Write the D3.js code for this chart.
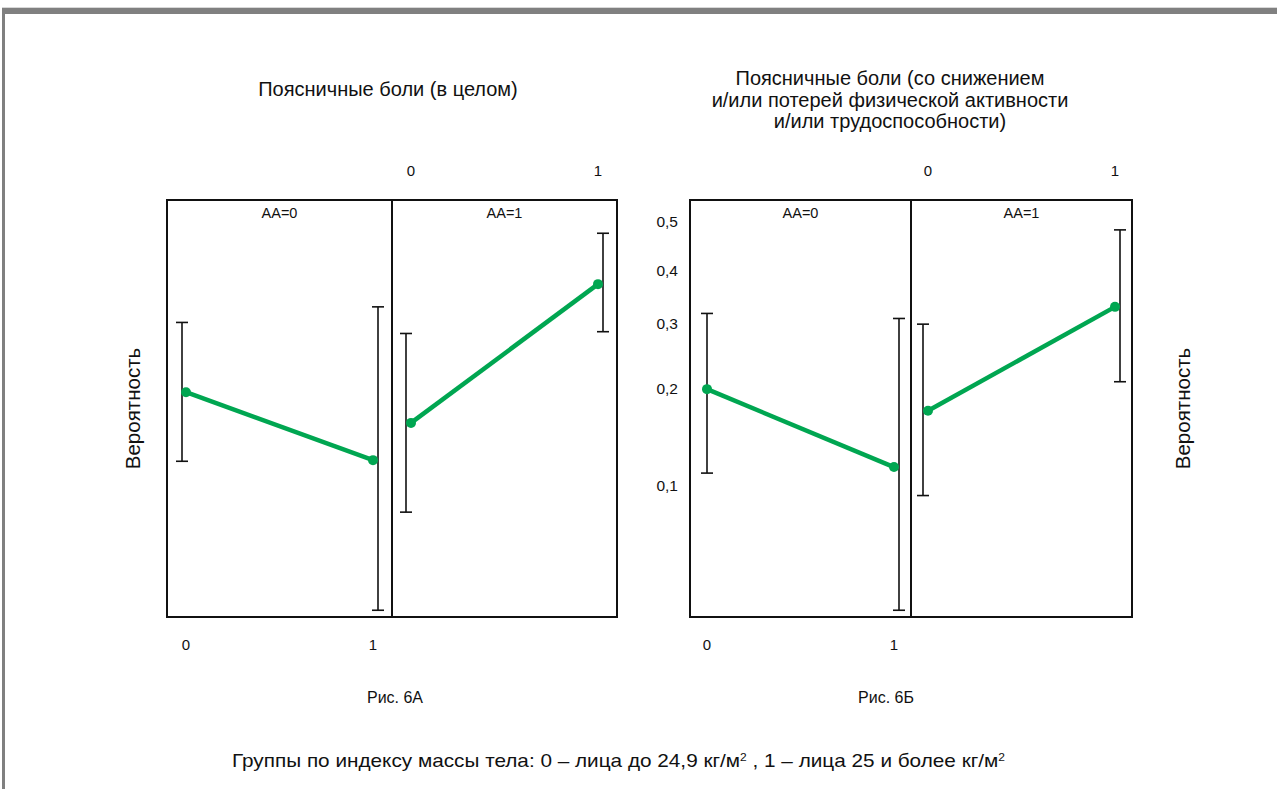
<!DOCTYPE html>
<html>
<head>
<meta charset="utf-8">
<script src="https://cdn.jsdelivr.net/npm/d3@7"></script>
<style>
  html, body { margin: 0; padding: 0; background: #fff; }
  #frame {
    position: absolute; left: 2px; top: 8px; width: 1275px; height: 781px;
    border-top: 6px solid #808080; border-left: 3px solid #808080;
    box-shadow: 0 -1px 0 #d8d8d8;
  }
  svg { position: absolute; left: 0; top: 0; font-family: "Liberation Sans", Arial, Helvetica, sans-serif; }
</style>
</head>
<body>
<div id="frame"></div>
<div id="chart"></div>
<script>
// BMI groups (x) and strata (panels)
const bmiGroups = [0, 1];
const strata = ["АА=0", "АА=1"];

// Рис. 6А: low back pain overall — estimate and 95% CI, per stratum [bmi0, bmi1]
const probA = [[0.195, 0.121], [0.158, 0.373]];
const lowA = [[0.120, 0.038], [0.082, 0.286]];
const highA = [[0.302, 0.330], [0.283, 0.476]];

// Рис. 6Б: low back pain with reduced activity / work capacity
const probB = [[0.199, 0.115], [0.172, 0.330]];
const lowB = [[0.110, 0.038], [0.093, 0.209]];
const highB = [[0.318, 0.309], [0.299, 0.483]];

const yTicksB = [0.1, 0.2, 0.3, 0.4, 0.5];

const titleA = ["Поясничные боли (в целом)"];
const titleB = [
  "Поясничные боли (со снижением",
  "и/или потерей физической активности",
  "и/или трудоспособности)"
];

const W = 1277, H = 789;
const green = "#00a651";
const logit = (p) => Math.log(p / (1 - p));

const svg = d3.select("#chart").append("svg").attr("width", W).attr("height", H);

const drawChart = (cfg) => {
  const g = svg.append("g");
  const panelW = (cfg.right - cfg.left) / 2;

  // logit probability scale
  const yScale = d3.scaleLinear()
    .domain([logit(0.036), logit(0.545)])
    .range([cfg.bottom, cfg.top]);
  const y = (p) => yScale(logit(p));

  strata.forEach((name, i) => {
    const x0 = cfg.left + i * panelW;
    const xScale = d3.scaleLinear().domain([0, 1]).range([x0 + cfg.inset, x0 + panelW - cfg.inset]);

    g.append("rect")
      .attr("x", x0).attr("y", cfg.top)
      .attr("width", panelW).attr("height", cfg.bottom - cfg.top)
      .attr("fill", "none").attr("stroke", "#111").attr("stroke-width", 2);

    g.append("text")
      .attr("x", x0 + panelW / 2).attr("y", cfg.top + 18)
      .attr("text-anchor", "middle").style("font-size", "14.5px").attr("fill", "#111")
      .text(name);

    // x labels: bottom for first panel, top for second
    bmiGroups.forEach((b) => {
      g.append("text")
        .attr("x", xScale(b))
        .attr("y", i == 0 ? cfg.bottom + 33 : cfg.top - 24)
        .attr("text-anchor", "middle").style("font-size", "15px").attr("fill", "#111")
        .text(b);
    });

    const pts = bmiGroups.map((b, j) => ({
      b,
      p: cfg.prob[i][j],
      lo: cfg.low[i][j],
      hi: cfg.high[i][j]
    }));

    // error bars (slightly dodged outward)
    const bx = (d) => xScale(d.b) + (d.b == 0 ? -cfg.dodge[i] : 5);
    const bars = g.selectAll(null).data(pts).enter().append("g")
      .attr("stroke", "#111").attr("stroke-width", 1.6);
    bars.append("line")
      .attr("x1", bx).attr("x2", bx)
      .attr("y1", (d) => y(d.lo)).attr("y2", (d) => y(d.hi));
    bars.append("line")
      .attr("x1", (d) => bx(d) - 6).attr("x2", (d) => bx(d) + 6)
      .attr("y1", (d) => y(d.hi)).attr("y2", (d) => y(d.hi));
    bars.append("line")
      .attr("x1", (d) => bx(d) - 6).attr("x2", (d) => bx(d) + 6)
      .attr("y1", (d) => y(d.lo)).attr("y2", (d) => y(d.lo));

    g.append("path")
      .datum(pts)
      .attr("fill", "none").attr("stroke", green).attr("stroke-width", 4.5)
      .attr("d", d3.line().x((d) => xScale(d.b)).y((d) => y(d.p)));

    g.selectAll(null).data(pts).enter().append("circle")
      .attr("cx", (d) => xScale(d.b)).attr("cy", (d) => y(d.p))
      .attr("r", 5).attr("fill", green);
  });

  if (cfg.ticks) {
    cfg.ticks.forEach((t) => {
      g.append("text")
        .attr("x", cfg.left - 12).attr("y", y(t)).attr("dy", "0.35em")
        .attr("text-anchor", "end").style("font-size", "15.5px").attr("fill", "#111")
        .text(String(t).replace(".", ","));
    });
  }

  // title
  const tx = cfg.titleX;
  cfg.title.forEach((line, k) => {
    g.append("text")
      .attr("x", tx).attr("y", cfg.titleY + k * 21.5)
      .attr("text-anchor", "middle").style("font-size", "20px").attr("fill", "#111")
      .text(line);
  });

  // y label
  g.append("text")
    .attr("transform", `translate(${cfg.yLabelX},${(cfg.top + cfg.bottom) / 2})rotate(-90)`)
    .attr("text-anchor", "middle").style("font-size", "20.5px").attr("fill", "#111")
    .attr("dy", "0.35em")
    .text("Вероятность");

  g.append("text")
    .attr("x", cfg.capX).attr("y", 703)
    .attr("text-anchor", "middle").style("font-size", "16px").attr("fill", "#111")
    .text(cfg.caption);
};

drawChart({
  left: 167, right: 617, top: 200, bottom: 617, inset: 19, dodge: [4, 5],
  prob: probA, low: lowA, high: highA,
  title: titleA, titleX: 388, titleY: 96,
  yLabelX: 133, capX: 395, caption: "Рис. 6А"
});

drawChart({
  left: 690, right: 1132, top: 200, bottom: 617, inset: 17, dodge: [0, 5],
  prob: probB, low: lowB, high: highB, ticks: yTicksB,
  title: titleB, titleX: 890, titleY: 85,
  yLabelX: 1183, capX: 886, caption: "Рис. 6Б"
});

// bottom note
const note = svg.append("text")
  .attr("x", 232).attr("y", 767)
  .attr("textLength", 773).attr("lengthAdjust", "spacingAndGlyphs")
  .style("font-size", "19px").attr("fill", "#111");
note.append("tspan").text("Группы по индексу массы тела: 0 – лица до 24,9 кг/м");
note.append("tspan").attr("baseline-shift", "super").style("font-size", "11px").text("2");
note.append("tspan").text(" , 1 – лица 25 и более кг/м");
note.append("tspan").attr("baseline-shift", "super").style("font-size", "11px").text("2");
</script>
</body>
</html>
